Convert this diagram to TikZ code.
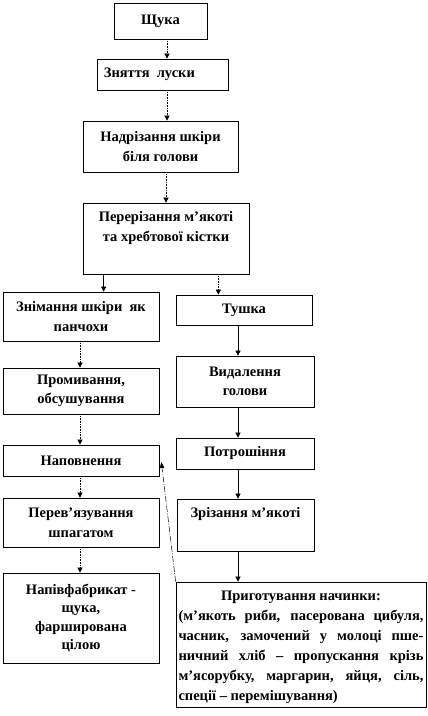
\documentclass[tikz,border=0pt]{standalone}
\usepackage{fontspec}
\setmainfont{Liberation Serif}
\usetikzlibrary{arrows.meta,calc}
\begin{document}
\begin{tikzpicture}[x=1pt,y=-1pt,
  box/.style={draw=black,line width=0.7pt,rectangle,inner sep=0pt,font=\bfseries\fontsize{14.5}{19.5}\selectfont,align=center},
  lbl/.style={inner sep=0pt,font=\bfseries\fontsize{14.5}{19.5}\selectfont,align=center},
  arr/.style={line width=0.6pt,-{Triangle[length=5pt,width=5pt]}},
  dotarr/.style={arr,densely dotted},
  back/.style={line width=0.5pt,dash pattern=on 6pt off 1.5pt on 1pt off 1.5pt,-{Triangle[length=6pt,width=4.5pt]}}]
\useasboundingbox (0,0) rectangle (428,716);
\fill[white] (0,0) rectangle (428,716);
% left / main column
\node[box,minimum width=93pt,minimum height=36pt] (A) at (160.5,21) {Щука};
\node[box,minimum width=131pt,minimum height=31pt] (B) at (162.5,74.5) {};
\node[lbl,anchor=west] (Bt) at ([xshift=7pt]B.west) {Зняття\ \ луски};
\node[box,minimum width=155pt,minimum height=51pt] (C) at (160.5,146.5) {Надрізання шкіри\\біля голови};
\node[box,minimum width=166pt,minimum height=71pt] (D) at (166,238.5) {};
\node[lbl,anchor=north] (Dt) at ([yshift=-9pt]D.north) {Перерізання м’якоті\\та хребтової кістки};
\node[box,minimum width=156pt,minimum height=49pt] (E) at (81,316.5) {Знімання шкіри\ \ як\\панчохи};
\node[box,minimum width=156pt,minimum height=46pt] (F) at (81,391) {Промивання,\\обсушування};
\node[box,minimum width=156pt,minimum height=31pt] (G) at (81,460.5) {Наповнення};
\node[box,minimum width=156pt,minimum height=49pt] (H) at (81,522.5) {Перев’язування\\шпагатом};
\node[box,minimum width=156pt,minimum height=90pt,font=\bfseries\fontsize{14.5}{18.5}\selectfont] (I) at (81,618) {Напівфабрикат -\\щука,\\фарширована\\цілою};
% right column
\node[box,minimum width=136pt,minimum height=30pt] (J) at (244,310) {Тушка};
\node[box,minimum width=138pt,minimum height=51pt] (K) at (245,381.5) {Видалення\\голови};
\node[box,minimum width=138pt,minimum height=31pt] (L) at (245,453.5) {Потрошіння};
\node[box,minimum width=137pt,minimum height=52pt] (M) at (245.5,525) {};
\node[lbl,anchor=north] (Mt) at ([yshift=-9pt]M.north) {Зрізання м’якоті};
\node[box,minimum width=250pt,minimum height=125pt] (N) at (301,644.5) {};
\node[lbl,anchor=north,align=left,font=\bfseries\fontsize{14.5}{20}\selectfont] (Nt) at ([yshift=-9pt]N.north) {%
\makebox[245pt][c]{Приготування начинки:}\\
\makebox[245pt][s]{(м’якоть риби, пасерована цибуля,}\\
\makebox[245pt][s]{часник, замочений у молоці пше-}\\
\makebox[245pt][s]{ничний хліб – пропускання крізь}\\
\makebox[245pt][s]{м’ясорубку, маргарин, яйця, сіль,}\\
\makebox[245pt][l]{спеції – перемішування)}};
% connectors
\draw[dotarr] ([xshift=6.5pt]A.south) -- ([xshift=6.5pt]A.south |- B.north);
\draw[dotarr] ([xshift=6.5pt]A.south |- B.south) -- ([xshift=6.5pt]A.south |- C.north);
\draw[dotarr] ([xshift=5.5pt]C.south) -- ([xshift=5.5pt]C.south |- D.north);
\draw[arr] ([xshift=21pt]D.south west) -- ([xshift=21pt]D.south west |- E.north);
\draw[dotarr] ([xshift=-31pt]D.south east) -- ([xshift=-31pt]D.south east |- J.north);
\draw[dotarr] ([xshift=-1pt]E.south) -- ([xshift=-1pt]E.south |- F.north);
\draw[dotarr] ([xshift=-1pt]F.south) -- ([xshift=-1pt]F.south |- G.north);
\draw[dotarr] ([xshift=-1pt]G.south) -- ([xshift=-1pt]G.south |- H.north);
\draw[dotarr] ([xshift=-1pt]H.south) -- ([xshift=-1pt]H.south |- I.north);
\draw[arr] ([xshift=-6pt]J.south) -- ([xshift=-6pt]J.south |- K.north);
\draw[arr] ([xshift=-7pt]K.south) -- ([xshift=-7pt]K.south |- L.north);
\draw[arr] ([xshift=-7pt]L.south) -- ([xshift=-7pt]L.south |- M.north);
\draw[arr] ([xshift=-7.5pt]M.south) -- ([xshift=-7.5pt]M.south |- N.north);
\draw[back] (N.north west) -- ([xshift=2pt,yshift=-1.5pt]G.east);
\end{tikzpicture}
\end{document}
